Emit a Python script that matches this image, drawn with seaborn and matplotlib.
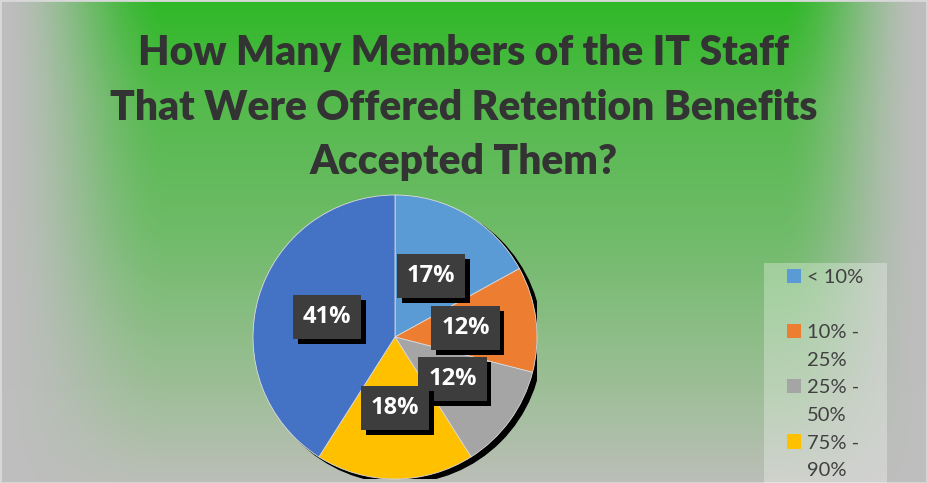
import numpy as np
import pandas as pd
import matplotlib
matplotlib.use("Agg")
import matplotlib.pyplot as plt
import seaborn as sns
from matplotlib import patheffects as pe
from matplotlib.patches import Patch, Circle, Rectangle

# ---- data ----
categories = ["< 10%", "10% - 25%", "25% - 50%", "75% - 90%", "> 90%"]
values = [17, 12, 12, 18, 41]
slice_colors = ["#5b9bd5", "#ed7d31", "#a5a5a5", "#ffc000", "#4472c4"]
legend_rows = ["< 10%", " ", "10% -", "25%", "25% -", "50%", "75% -", "90%"]
legend_row_color = ["#5b9bd5", None, "#ed7d31", None, "#a5a5a5", None, "#ffc000", None]
title_lines = ["How Many Members of the IT Staff",
               "That Were Offered Retention Benefits",
               "Accepted Them?"]

df = pd.DataFrame({"category": categories, "value": values, "color": slice_colors})

sns.set_theme(style="white")
plt.rcParams["font.family"] = ["Lato", "DejaVu Sans"]

W, H = 927, 483
fig = plt.figure(figsize=(W / 100, H / 100), dpi=100)

# ---- background gradient ----
bg = fig.add_axes([0, 0, 1, 1])
ys = np.arange(H)
xs = np.arange(W)
ky = [0, 100, 230, 390, 483]
cr = np.interp(ys, ky, [46, 84, 110, 158, 188])
cg = np.interp(ys, ky, [184, 186, 187, 190, 190])
cb = np.interp(ys, ky, [38, 76, 104, 152, 184])
gcol = np.stack([cr, cg, cb], axis=-1)  # H x 3
def smooth(t):
    t = np.clip(t, 0, 1)
    return t * t * (3 - 2 * t)
hx = smooth(xs / 170.0) * smooth((W - xs) / 150.0)
gray = np.array([190, 190, 190], dtype=float)
img = gray[None, None, :] + (gcol[:, None, :] - gray[None, None, :]) * hx[None, :, None]
bg.imshow(img.astype(np.uint8), aspect="auto", extent=[0, 1, 0, 1], interpolation="bilinear")
bg.set_axis_off()
bg.add_patch(Rectangle((0, 0), 1, 1, transform=bg.transAxes, fill=False,
                       ec="#d8d8d8", lw=2.0, zorder=5))

# ---- title ----
for line, yp in zip(title_lines, [53, 108, 162]):
    fig.text(464 / W, 1 - yp / H, line, ha="center", va="center",
             fontsize=29.3, fontweight="heavy", color="#333333")

# ---- pie ----
cx, cy, r = 395, 337, 142
ax = fig.add_axes([(cx - r) / W, (H - cy - r) / H, 2 * r / W, 2 * r / H])
ax.add_patch(Circle((0.035, -0.028), 1.0, color="black", zorder=0))
wedges, texts, autotexts = ax.pie(
    df["value"], colors=df["color"], startangle=90, counterclock=False,
    radius=1.0, autopct="%1.0f%%", pctdistance=0.5,
    wedgeprops=dict(edgecolor="#dcdcdc", linewidth=0.6),
    textprops=dict(color="white", fontsize=17, fontweight="bold",
                   family=["Open Sans", "DejaVu Sans"]))
ax.set_xlim(-1, 1)
ax.set_ylim(-1, 1)
ax.set_aspect("equal")
ax.set_axis_off()
for w in wedges:
    w.set_zorder(2)
for t in autotexts:
    t.set_zorder(5)
    t.set_bbox(dict(boxstyle="square,pad=0.42", fc="#3d3d3d", ec="none"))
    t.get_bbox_patch().set_path_effects([
        pe.SimplePatchShadow(offset=(3.5, -3.5), shadow_rgbFace="black", alpha=1.0),
        pe.Normal()])

# ---- legend ----
fig.patches.append(Rectangle((764 / W, 0), (887 - 764) / W, (H - 263) / H,
                             transform=fig.transFigure, fc="white", alpha=0.3,
                             ec="none", zorder=1))
handles = [Patch(fc=c, ec="none") if c else Patch(fc="none", ec="none", alpha=0)
           for c in legend_row_color]
leg = fig.legend(handles, legend_rows, loc="upper left",
                 bbox_to_anchor=(787 / W, 1 - 269 / H), bbox_transform=fig.transFigure,
                 frameon=False, borderaxespad=0, borderpad=0,
                 handlelength=0.7, handleheight=0.7, handletextpad=0.3,
                 labelspacing=0.52, prop=dict(size=14.5))
for t in leg.get_texts():
    t.set_color("#404040")

fig.savefig("out.png", dpi=100)
